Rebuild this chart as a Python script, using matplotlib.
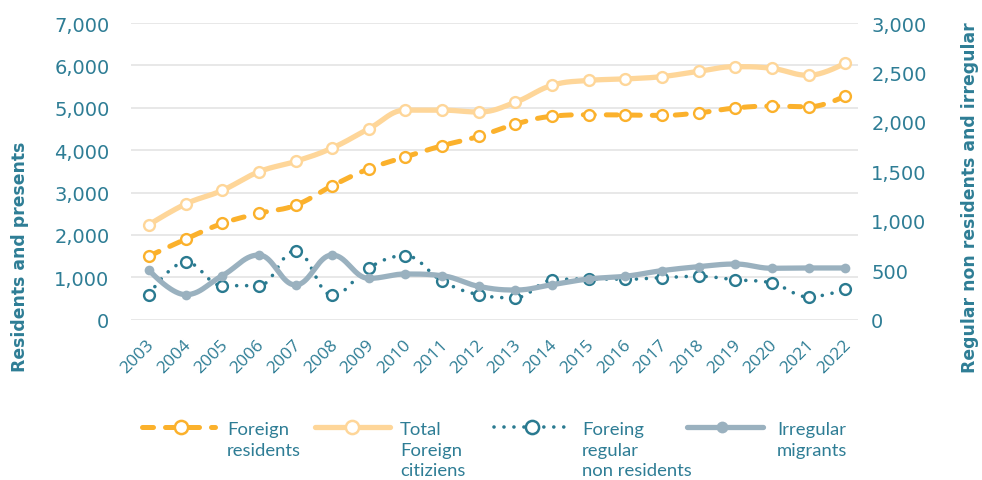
import numpy as np
import matplotlib
matplotlib.use("Agg")
import matplotlib.pyplot as plt
from matplotlib.transforms import ScaledTranslation

years = list(range(2003, 2023))
foreign_residents = [1500, 1900, 2270, 2510, 2700, 3160, 3560, 3840, 4105, 4325,
                     4615, 4800, 4835, 4830, 4820, 4880, 4995, 5040, 5020, 5275]
total_foreign = [2240, 2730, 3050, 3490, 3735, 4050, 4505, 4945, 4945, 4900,
                 5130, 5530, 5645, 5680, 5735, 5860, 5970, 5930, 5765, 6055]
regular_non_residents = [253, 583, 344, 344, 698, 247, 526, 647, 391, 253,
                         222, 401, 412, 409, 425, 439, 404, 371, 230, 307]
irregular_migrants = [502, 253, 445, 654, 351, 654, 418, 462, 445, 337,
                      300, 354, 412, 439, 496, 536, 563, 520, 523, 523]

left_ticks = [0, 1000, 2000, 3000, 4000, 5000, 6000, 7000]
right_ticks = [0, 500, 1000, 1500, 2000, 2500, 3000]

TEXT = "#2e7d95"
ORANGE = "#fbb12c"
LIGHT = "#fed699"
TEAL = "#2a7a90"
GREY = "#9ab1bf"


def spline(x, y, smoothing=1.5, n=40):
    x = np.asarray(x, float)
    y = np.asarray(y, float)
    m = len(x)
    d = smoothing + 1
    lc = [(x[i], y[i]) for i in range(m)]
    rc = [(x[i], y[i]) for i in range(m)]
    for i in range(1, m - 1):
        lx = (smoothing * x[i] + x[i - 1]) / d
        ly = (smoothing * y[i] + y[i - 1]) / d
        rx = (smoothing * x[i] + x[i + 1]) / d
        ry = (smoothing * y[i] + y[i + 1]) / d
        corr = 0.0
        if rx != lx:
            corr = ((ry - ly) * (rx - x[i])) / (rx - lx) + y[i] - ry
        ly += corr
        ry += corr
        if ly > y[i - 1] and ly > y[i]:
            ly = max(y[i - 1], y[i]); ry = 2 * y[i] - ly
        elif ly < y[i - 1] and ly < y[i]:
            ly = min(y[i - 1], y[i]); ry = 2 * y[i] - ly
        if ry > y[i + 1] and ry > y[i]:
            ry = max(y[i + 1], y[i]); ly = 2 * y[i] - ry
        elif ry < y[i + 1] and ry < y[i]:
            ry = min(y[i + 1], y[i]); ly = 2 * y[i] - ry
        lc[i] = (lx, ly)
        rc[i] = (rx, ry)
    t = np.linspace(0, 1, n)[:, None]
    out = []
    for i in range(1, m):
        p0 = np.array([x[i - 1], y[i - 1]])
        p1 = np.array(rc[i - 1])
        p2 = np.array(lc[i])
        p3 = np.array([x[i], y[i]])
        seg = ((1 - t) ** 3) * p0 + 3 * ((1 - t) ** 2) * t * p1 + 3 * (1 - t) * t ** 2 * p2 + t ** 3 * p3
        out.append(seg if i == 1 else seg[1:])
    out = np.vstack(out)
    return out[:, 0], out[:, 1]


W, H = 982, 481
fig = plt.figure(figsize=(W / 100, H / 100), dpi=100)

ax = fig.add_axes([131 / W, 1 - 320.7 / H, (858 - 131) / W, (320.7 - 24) / H])
ax2 = ax.twinx()

ax.set_xlim(2002.51, 2022.35)
ax.set_ylim(0, 7000)
ax2.set_ylim(0, 3000)

for a in (ax, ax2):
    for s in a.spines.values():
        s.set_visible(False)
    a.tick_params(length=0)
ax2.patch.set_visible(False)

ax.set_yticks(left_ticks)
ax.set_yticklabels([f"{v:,}" for v in left_ticks])
ax2.set_yticks(right_ticks)
ax2.set_yticklabels([f"{v:,}" for v in right_ticks])
ax.tick_params(axis="y", labelsize=14, labelcolor=TEXT, pad=15.5)
ax2.tick_params(axis="y", labelsize=14, labelcolor=TEXT, pad=9.5)
ax.grid(axis="y", color="#e2e2e2", lw=1.1)
ax.set_axisbelow(True)

ax.set_xticks(years)
ax.set_xticklabels([str(y) for y in years], rotation=45, ha="right",
                   rotation_mode="anchor", va="center",
                   fontsize=12.5, color=TEXT, family=["Open Sans", "DejaVu Sans"])
ax.tick_params(axis="x", pad=16)
off = ScaledTranslation(3 / 100, 0, fig.dpi_scale_trans)
for lbl in ax.get_xticklabels():
    lbl.set_transform(lbl.get_transform() + off)

DASH = (0, (2.2, 2.4))
DOT = (0, (0.01, 2.75))

# series
sx, sy = spline(years, foreign_residents)
ax.plot(sx, sy, color=ORANGE, lw=3.6, linestyle=DASH,
        dash_capstyle="round", zorder=3)
ax.plot(years, foreign_residents, ls="none", marker="o", ms=7.8, mfc="white",
        mec=ORANGE, mew=1.7, zorder=4)

sx, sy = spline(years, total_foreign)
ax.plot(sx, sy, color=LIGHT, lw=3.8, solid_capstyle="round", zorder=3)
ax.plot(years, total_foreign, ls="none", marker="o", ms=7.8, mfc="white",
        mec=LIGHT, mew=1.7, zorder=4)

sx, sy = spline(years, regular_non_residents)
ax2.plot(sx, sy, color=TEAL, lw=2.6, linestyle=DOT,
         dash_capstyle="round", zorder=3)
ax2.plot(years, regular_non_residents, ls="none", marker="o", ms=7.8, mfc="white",
         mec=TEAL, mew=1.7, zorder=4)

sx, sy = spline(years, irregular_migrants)
ax2.plot(sx, sy, color=GREY, lw=3.8, solid_capstyle="round", zorder=5)
ax2.plot(years, irregular_migrants, ls="none", marker="o", ms=7.0, mfc=GREY,
         mec=GREY, mew=0, zorder=6)

# axis titles
fig.text(20 / W, 1 - 257 / H, "Residents and presents", rotation=90,
         ha="center", va="center", fontsize=12.4, fontweight="bold", color=TEXT)
fig.text(970 / W, 1 - 198 / H, "Regular non residents and irregular", rotation=90,
         ha="center", va="center", fontsize=12.4, fontweight="bold", color=TEXT)

# legend (manual, pixel coordinates on an overlay axes)
lax = fig.add_axes([0, 0, 1, 1])
lax.set_xlim(0, W)
lax.set_ylim(H, 0)
lax.axis("off")
ly = 428
lax.plot([142, 215], [ly, ly], color=ORANGE, lw=3.6, linestyle=DASH,
         dash_capstyle="round")
lax.plot([181.5], [ly], marker="o", ms=9.5, mfc="white", mec=ORANGE, mew=1.8)
lax.plot([315, 390], [ly, ly], color=LIGHT, lw=3.8, solid_capstyle="round")
lax.plot([352.5], [ly], marker="o", ms=9.5, mfc="white", mec=LIGHT, mew=1.8)
lax.plot([494, 569], [ly, ly], color=TEAL, lw=2.6, linestyle=DOT,
         dash_capstyle="round")
lax.plot([532.5], [ly], marker="o", ms=9.5, mfc="white", mec=TEAL, mew=1.8)
lax.plot([687, 763], [ly, ly], color=GREY, lw=3.8, solid_capstyle="round")
lax.plot([722.5], [ly], marker="o", ms=8.5, mfc=GREY, mec=GREY, mew=0)

legend_texts = [
    (227, ["Foreign", "residents"]),
    (400, ["Total", "Foreign", "citiziens"]),
    (582, ["Foreing", "regular", "non residents"]),
    (777, ["Irregular", "migrants"]),
]
for x0, lines in legend_texts:
    for k, t in enumerate(lines):
        lax.text(x0, 435.5 + k * 20.2, t, ha="left", va="baseline", fontsize=13.3,
                 color=TEXT, family=["Lato", "DejaVu Sans"])

fig.savefig("out.png", dpi=100)
